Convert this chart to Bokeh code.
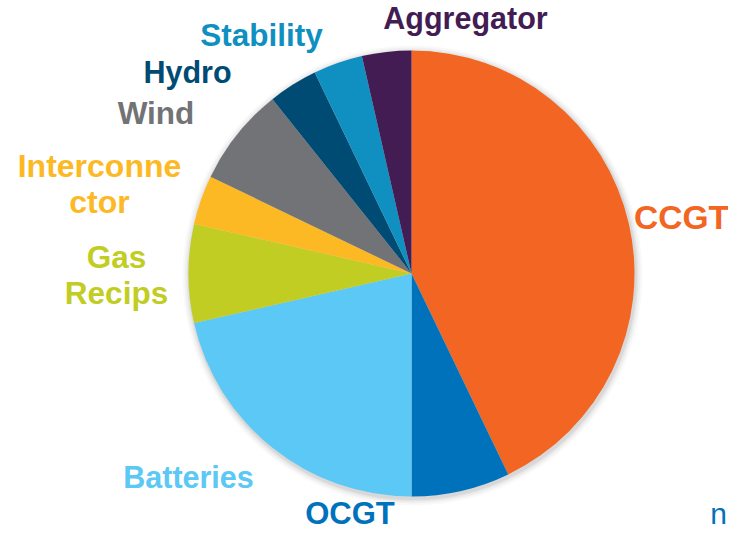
import numpy as np
import pandas as pd
from bokeh.plotting import figure
from bokeh.models import Range1d, ColumnDataSource
from bokeh.core.properties import value
from bokeh.embed import file_html
from bokeh.resources import INLINE

# ---- data (clockwise from 12 o'clock) ----
categories = ["CCGT", "OCGT", "Batteries", "Gas Recips", "Interconnector",
              "Wind", "Hydro", "Stability", "Aggregator"]
shares = [12, 2, 6, 2, 1, 2, 1, 1, 1]
colors = ["#F26522", "#0072BC", "#5BC8F5", "#C1CD23", "#FDB924",
          "#727376", "#004B73", "#1090C1", "#421C52"]
label_texts = ["CCGT", "OCGT", "Batteries", "Gas\nRecips", "Interconne\nctor",
               "Wind", "Hydro", "Stability", "Aggregator"]

# ---- layout (picture pixel coordinates, baselines) ----
W, H = 728, 531
cx, cy, R = 411, 273, 223
label_pos = [(681, 228), (349.5, 524), (188, 487), (116, 267), (99, 176),
             (155.5, 123), (187, 82), (261, 45), (465, 28)]
label_size = ["33.5px", "31px", "30.5px", "31.5px", "32px",
              "31.5px", "30.5px", "31.5px", "30.5px"]
LINE_H = 36.5
TEXT_DY = -11   # compensation of rendered baseline offset
FONT = "Liberation Sans"

df = pd.DataFrame({"cat": categories, "val": shares, "color": colors})
frac = df["val"] / df["val"].sum()
end = frac.cumsum()
start = end - frac
df["start"] = np.pi / 2 - start * 2 * np.pi
df["end"] = np.pi / 2 - end * 2 * np.pi
src = ColumnDataSource(df)

p = figure(width=W, height=H, output_backend="svg", toolbar_location=None,
           x_range=Range1d(0, W), y_range=Range1d(-H, 0),
           x_axis_location=None, y_axis_location=None, min_border=0,
           outline_line_color=None)
p.grid.visible = False
p.background_fill_color = "white"
p.border_fill_color = "white"

# soft shadow
for i, r in enumerate([230, 228, 226, 224.5]):
    p.circle(x=cx + 1, y=-(cy + 2), radius=r, fill_color="#000000",
             fill_alpha=0.025 + 0.01 * i, line_color=None)

p.wedge(x=cx, y=-cy, radius=R, start_angle="start", end_angle="end",
        direction="clock", fill_color="color", line_color=None, source=src)

# labels
xs, ys, ts, cs, fs = [], [], [], [], []
for txt, (lx, ly), c, s in zip(label_texts, label_pos, colors, label_size):
    for k, line in enumerate(txt.split("\n")):
        xs.append(lx)
        ys.append(-(ly + k * LINE_H + TEXT_DY))
        ts.append(line)
        cs.append(c)
        fs.append(s)
lsrc = ColumnDataSource(dict(x=xs, y=ys, text=ts, color=cs, size=fs))
p.text(x="x", y="y", text="text", text_color="color", text_font_size="size",
       source=lsrc, text_font=value(FONT),
       text_font_style="bold", text_align="center", text_baseline="alphabetic")

# text fragment at bottom right
p.text(x=[718], y=[-(524 + TEXT_DY)], text=["n"], text_color="#0072BC",
       text_font=value(FONT), text_font_size=value("30px"),
       text_align="center", text_baseline="alphabetic")

open("out.html", "w").write(file_html(p, INLINE))
